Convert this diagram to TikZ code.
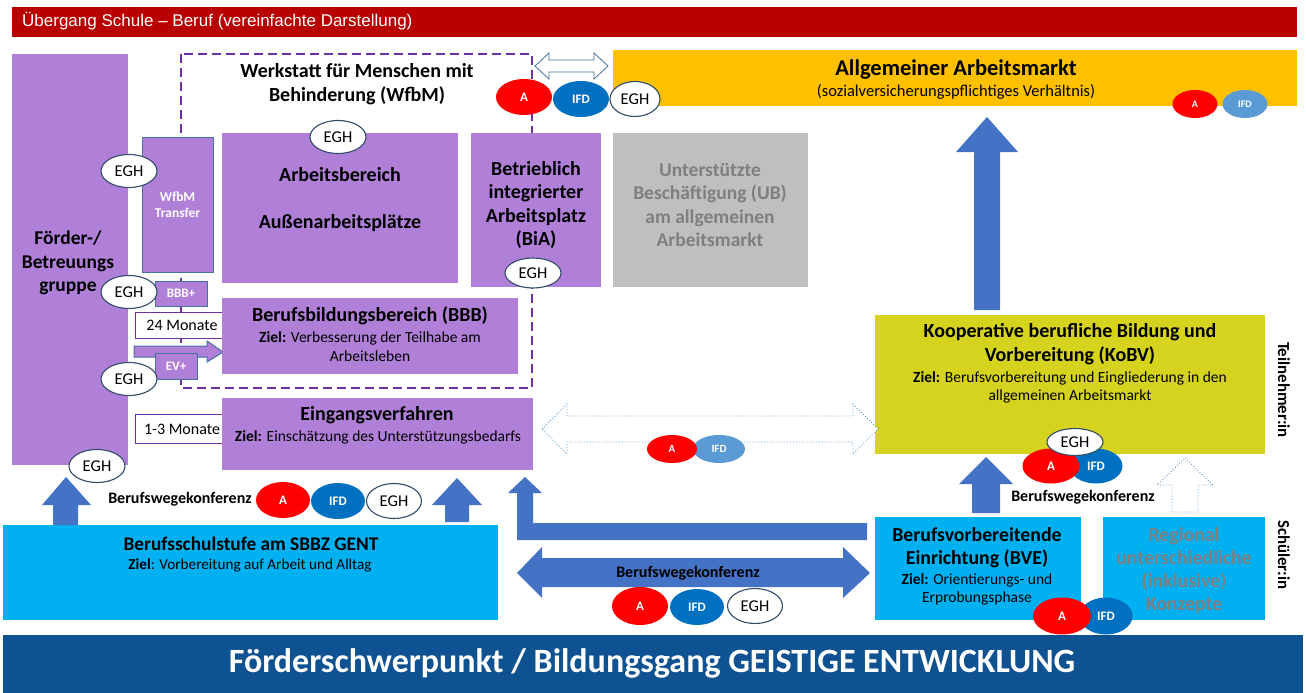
\documentclass[tikz,border=0pt]{standalone}
\usepackage{fontspec}
\setmainfont{Carlito}
\newfontfamily\arialf{Liberation Sans}
\usetikzlibrary{shapes.geometric}
\definecolor{purp}{RGB}{176,127,216}
\definecolor{wfbm}{RGB}{112,48,160}
\definecolor{edgec}{RGB}{65,113,156}
\definecolor{eghc}{RGB}{50,75,105}
\definecolor{cyanb}{RGB}{0,176,240}
\definecolor{orangeb}{RGB}{255,192,0}
\definecolor{limeb}{RGB}{213,211,30}
\definecolor{arrowb}{RGB}{68,114,196}
\definecolor{darkredb}{RGB}{184,0,0}
\definecolor{navyb}{RGB}{14,82,145}
\definecolor{ifdd}{RGB}{0,112,192}
\definecolor{ifdl}{RGB}{91,155,213}
\definecolor{greyb}{RGB}{191,191,191}
\definecolor{greyt}{RGB}{127,127,127}
\newcommand\fs[2]{\fontsize{#1}{#2}\selectfont}
\newcommand\boxat[6]{\node[#6, anchor=north west, minimum width={#4-#2}, minimum height={#5-#3}] (#1) at (#2,#3) {};}
\begin{document}
\begin{tikzpicture}[x=1pt,y=-1pt,
  rbox/.style={rectangle, inner sep=0, outer sep=0},
  pbox/.style={rbox, fill=purp},
  txt/.style={inner sep=0, align=center},
  hd/.style={txt, font=\fs{20}{23.5}\bfseries},
  rg/.style={txt, font=\fs{15.5}{19}},
  ell/.style={ellipse, inner sep=0, minimum width=56, minimum height=36, font=\fs{13}{15}\bfseries, text=white},
  egh/.style={ellipse, inner sep=0, minimum width=56, minimum height=33, fill=white, draw=eghc, line width=1.1pt, font=\fs{16.5}{18}},
  aell/.style={ell, fill=red},
  ifdD/.style={ell, fill=ifdd},
  ifdL/.style={ell, fill=ifdl},
  blockarrow/.style={fill=arrowb},
  outarrow/.style={fill=white, draw=edgec, line width=0.8pt},
  dotarrow/.style={fill=white, draw=ifdl, line width=0.9pt, dotted},
  monbox/.style={rbox, fill=white, draw=wfbm, line width=0.8pt},
  smallp/.style={rbox, fill=purp, draw=edgec, line width=1pt},
  bwk/.style={txt, font=\fs{16}{18}\bfseries}
]
\useasboundingbox (0,0) rectangle (1306,693);
% title bar
\boxat{titlebar}{12}{7}{1297}{37}{rbox, fill=darkredb}
\node[txt, anchor=west, text=white, font=\arialf\fs{17}{20}] (titletext) at (22,21) {Übergang Schule – Beruf (vereinfachte Darstellung)};
% bottom band
\boxat{band}{3}{635}{1303}{693}{rbox, fill=navyb}
\node[txt, text=white, font=\fs{34}{38}\bfseries] (bandtext) at (652,663) {Förderschwerpunkt / Bildungsgang GEISTIGE ENTWICKLUNG};

% WfbM dashed frame
\draw[wfbm, line width=2pt, dash pattern=on 9pt off 5pt] (181,54) rectangle (532,388);
\node[hd] (wfbmtitle) at (357,84) {Werkstatt für Menschen mit\\Behinderung (WfbM)};

% Förder-/Betreuungsgruppe
\boxat{foerder}{12}{54}{128}{465}{pbox}
\node[txt, font=\fs{19.5}{23.5}\bfseries] (foerdertext) at (68,263) {Förder-/\\Betreuungs\\gruppe};

% WfbM Transfer etc
\boxat{transfer}{142}{137}{213}{272}{smallp}
\node[txt, text=white, font=\fs{13.5}{16}\bfseries] at (177.5,205) {WfbM\\Transfer};
\boxat{bbbplus}{155}{281}{207}{306}{smallp}
\node[txt, text=white, font=\fs{13}{15}\bfseries] at (181,293.5) {BBB+};
\boxat{mon24}{135}{312}{235}{338}{monbox}
\node[txt, font=\fs{16}{18}] at (182,325) {24 Monate};
\draw[fill=purp, draw=edgec, line width=1pt] (134,346) -- (207,346) -- (207,341) -- (223,352) -- (207,362) -- (207,357) -- (134,357) -- cycle;
\boxat{evplus}{155}{353}{197}{379}{smallp}
\node[txt, text=white, font=\fs{13}{15}\bfseries] at (176,366) {EV+};
\boxat{mon13}{135}{414}{235}{443}{monbox}
\node[txt, font=\fs{16}{18}] at (182,429) {1-3 Monate};

% Arbeitsbereich
\boxat{arb}{222}{133}{458}{283}{pbox}
\node[hd] at (340,175) {Arbeitsbereich};
\node[hd] at (340,223) {Außenarbeitsplätze};
% BiA
\boxat{bia}{471}{133}{601}{287}{pbox}
\node[hd] at (536,205) {Betrieblich\\integrierter\\Arbeitsplatz\\(BiA)};
% UB
\boxat{ub}{613}{133}{808}{287}{rbox, fill=greyb}
\node[hd, text=greyt, font=\fs{19.5}{23.5}\bfseries] at (710,205) {Unterstützte\\Beschäftigung (UB)\\am allgemeinen\\Arbeitsmarkt};
% BBB
\boxat{bbb}{222}{298}{518}{374}{pbox}
\node[hd] at (370,316) {Berufsbildungsbereich (BBB)};
\node[rg] at (370,347) {\textbf{Ziel:} Verbesserung der Teilhabe am\\Arbeitsleben};
% Eingangsverfahren
\boxat{ev}{222}{398}{533}{470}{pbox}
\node[hd] at (377,415) {Eingangsverfahren};
\node[rg] at (378,437) {\textbf{Ziel:} Einschätzung des Unterstützungsbedarfs};

% Allgemeiner Arbeitsmarkt
\boxat{aam}{613}{50}{1297}{106}{rbox, fill=orangeb}
\node[txt, font=\fs{22.5}{25}\bfseries] at (956,70) {Allgemeiner Arbeitsmarkt};
\node[txt, font=\fs{16.5}{18}] at (956,92) {(sozialversicherungspflichtiges Verhältnis)};

% KoBV
\boxat{kobv}{875}{315}{1265}{454}{rbox, fill=limeb}
\node[hd] at (1070,344) {Kooperative berufliche Bildung und\\Vorbereitung (KoBV)};
\node[rg, font=\fs{15.5}{18}] at (1070,387) {\textbf{Ziel:} Berufsvorbereitung und Eingliederung in den\\allgemeinen Arbeitsmarkt};
\node[txt, rotate=-90, font=\fs{16.8}{19}\bfseries] at (1284,390) {Teilnehmer:in};
\node[txt, rotate=-90, font=\fs{16.8}{19}\bfseries] at (1284,555) {Schüler:in};

% BVE and Regional
\boxat{bve}{875}{517}{1081}{620}{rbox, fill=cyanb}
\node[hd, font=\fs{19.8}{23}\bfseries] at (977,548) {Berufsvorbereitende\\Einrichtung (BVE)};
\node[rg, font=\fs{15.5}{18}] at (977,589) {\textbf{Ziel:} Orientierungs- und\\Erprobungsphase};
\boxat{regional}{1103}{517}{1265}{620}{rbox, fill=cyanb}
\node[hd, text=greyt, font=\fs{19.8}{23}\bfseries] at (1184,571) {Regional\\unterschiedliche\\(inklusive)\\Konzepte};
\node[bwk] at (1083,497) {Berufswegekonferenz};

% Berufsschulstufe
\boxat{bss}{3}{525}{498}{620}{rbox, fill=cyanb}
\node[txt, font=\fs{19.3}{22}\bfseries] at (251,544) {Berufsschulstufe am SBBZ GENT};
\node[rg, font=\fs{15.2}{17}] at (250,565) {\textbf{Ziel}: Vorbereitung auf Arbeit und Alltag};
\node[bwk] at (180,499) {Berufswegekonferenz};

% block arrows
\draw[outarrow] (535,66) -- (549,53) -- (549,60) -- (594,60) -- (594,53) -- (608,66) -- (594,79) -- (594,72) -- (549,72) -- (549,79) -- cycle;
\fill[blockarrow] (987,117) -- (1018,152) -- (1000,152) -- (1000,310) -- (974,310) -- (974,152) -- (956,152) -- cycle;
\fill[blockarrow] (986,457) -- (1013,484) -- (1000,484) -- (1000,513) -- (972,513) -- (972,484) -- (959,484) -- cycle;
\draw[dotarrow] (1185,458) -- (1213,485) -- (1198,485) -- (1198,512) -- (1172,512) -- (1172,485) -- (1157,485) -- cycle;
\fill[blockarrow] (66,477) -- (91,505) -- (78,505) -- (78,525) -- (53,525) -- (53,505) -- (42,505) -- cycle;
\fill[blockarrow] (457,478) -- (482,505) -- (469,505) -- (469,522) -- (445,522) -- (445,505) -- (432,505) -- cycle;
\fill[blockarrow] (867,523) -- (533,523) -- (533,493) -- (542,493) -- (525,477) -- (508,493) -- (517,493) -- (517,540) -- (867,540) -- cycle;
\fill[blockarrow] (517,573) -- (542,547) -- (542,558) -- (843,558) -- (843,547) -- (870,573) -- (843,598) -- (843,587) -- (542,587) -- (542,598) -- cycle;
\node[bwk] at (688,573) {Berufswegekonferenz};
\draw[dotarrow] (542,429) -- (567,404) -- (567,416) -- (853,416) -- (853,404) -- (878,429) -- (853,454) -- (853,442) -- (567,442) -- (567,454) -- cycle;

% EGH ellipses
\node[egh] (egh1) at (129,171) {EGH};
\node[egh] (egh2) at (129,292) {EGH};
\node[egh] (egh3) at (129,379) {EGH};
\node[egh] (egh4) at (97,466) {EGH};
\node[egh] (egh5) at (338,137) {EGH};
\node[egh, minimum height=30] (egh6) at (533,273) {EGH};

% A / IFD / EGH groups
\node[aell] (a1) at (524,97) {A};
\node[ifdD] (i1) at (581,99) {IFD};
\node[egh, minimum width=50, minimum height=35] (egh7) at (635,99) {EGH};

\node[aell, minimum width=45, minimum height=28, font=\fs{10}{12}\bfseries] (a2) at (1195,104) {A};
\node[ifdL, minimum width=45, minimum height=28, font=\fs{10}{12}\bfseries] (i2) at (1245,104) {IFD};

\node[ifdL, minimum width=52, minimum height=28, font=\fs{11}{13}\bfseries] (i3) at (719,449) {IFD};
\node[aell, minimum width=50, minimum height=28, font=\fs{11}{13}\bfseries] (a3) at (672,449) {A};

\node[aell, minimum width=54] (a4) at (283,500) {A};
\node[ifdD, minimum width=54] (i4) at (338,501) {IFD};
\node[egh, minimum width=55, minimum height=35] (egh8) at (394,501) {EGH};

\node[aell, minimum width=56, minimum height=38] (a5) at (640,606) {A};
\node[ifdD, minimum width=54, minimum height=36] (i5) at (697,607) {IFD};
\node[egh, minimum width=55, minimum height=35] (egh9) at (755,606) {EGH};

\node[ifdD, minimum width=53, minimum height=35] (i6) at (1096,466) {IFD};
\node[aell, minimum width=57, minimum height=35] (a6) at (1051,466) {A};
\node[egh, minimum width=56, minimum height=27] (egh10) at (1075,442) {EGH};

\node[ifdD, minimum width=53, minimum height=37] (i7) at (1106,616) {IFD};
\node[aell, minimum width=58, minimum height=37] (a7) at (1062,616) {A};
\end{tikzpicture}
\end{document}
